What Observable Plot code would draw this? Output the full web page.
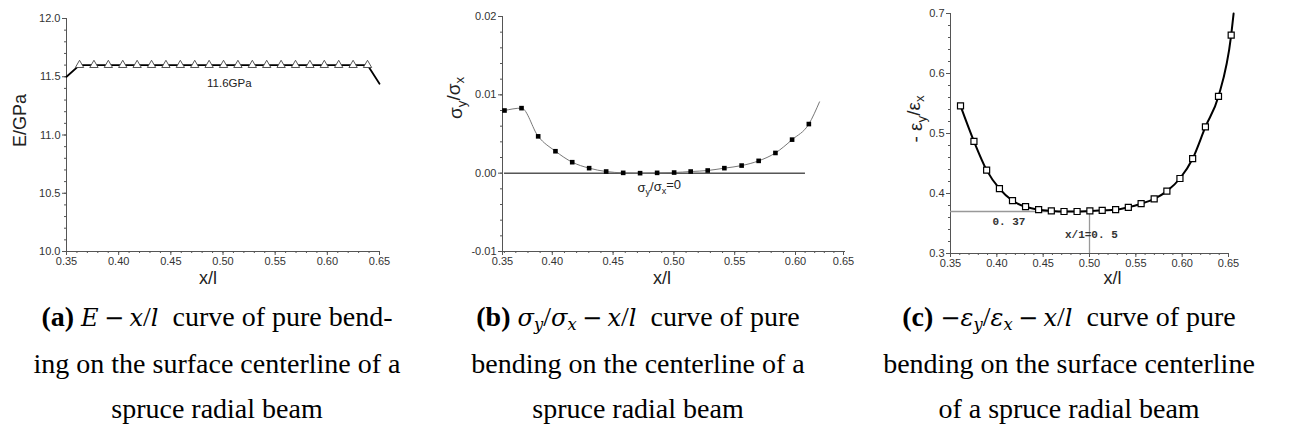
<!DOCTYPE html>
<html><head><meta charset="utf-8">
<script src="https://cdn.jsdelivr.net/npm/d3@7"></script>
<script src="https://cdn.jsdelivr.net/npm/@observablehq/plot@0.6"></script>
<style>
body{margin:0;background:#fff;}
#wrap{position:relative;width:1303px;height:442px;overflow:hidden;background:#fff;}
.panel{position:absolute;top:0;}
.cap{position:absolute;top:294px;width:600px;font-family:"Liberation Serif","Times New Roman",serif;font-size:28px;line-height:45px;text-align:center;color:#000;white-space:nowrap;}
.cap .m{font-family:"DejaVu Serif",serif;font-style:italic;font-size:0.86em;}
.cap .op{font-family:"DejaVu Serif",serif;font-size:0.86em;margin:0 0.22em;}
.cap sub{font-size:68%;vertical-align:-0.25em;line-height:0;}
</style></head><body><div id="wrap"></div>
<script>
// ---------- shared axis values ----------
const xMajor = [0.35, 0.40, 0.45, 0.50, 0.55, 0.60, 0.65];

// ---------- (a) E - x/l ----------
const eX = [0.3625, 0.3763, 0.3901, 0.4039, 0.4177, 0.4315, 0.4453, 0.4591, 0.4729, 0.4867, 0.5005,
            0.5143, 0.5281, 0.5419, 0.5557, 0.5695, 0.5833, 0.5971, 0.6109, 0.6247, 0.6385];
const eY = [11.6, 11.6, 11.6, 11.6, 11.6, 11.6, 11.6, 11.6, 11.6, 11.6, 11.6,
            11.6, 11.6, 11.6, 11.6, 11.6, 11.6, 11.6, 11.6, 11.6, 11.6];
const eStartX = [0.35], eStartY = [11.5];
const eEndX = [0.65], eEndY = [11.44];
const eTicksY = [10.0, 10.5, 11.0, 11.5, 12.0];

// ---------- (b) sigma_y/sigma_x - x/l ----------
const sX = [0.3607, 0.3747, 0.3884, 0.4026, 0.4164, 0.4303, 0.4443, 0.4583, 0.4722, 0.4862,
            0.5002, 0.5138, 0.5278, 0.5415, 0.5557, 0.5697, 0.5835, 0.5972, 0.6139];
const sY = [0.0080, 0.0083, 0.0047, 0.0028, 0.0014, 0.00064, 0.00021, 0.00004, 0.0000, 0.00004,
            0.00008, 0.00021, 0.00034, 0.00064, 0.00097, 0.00157, 0.00258, 0.00428, 0.00627];
const sEndX = [0.625], sEndY = [0.0091];
const sZeroX = [0.3607, 0.6104];
const sTicksY = [-0.01, 0.00, 0.01, 0.02];
// the x axis of (b) is compressed at both ends in the source figure (piecewise scale)
const sAxisDomain = [0.35, 0.3607, 0.60, 0.65];

// ---------- (c) -eps_y/eps_x - x/l ----------
const cX = [0.3608, 0.3753, 0.3890, 0.4028, 0.4169, 0.4310, 0.4451, 0.4588, 0.4725, 0.4866, 0.5004,
            0.5137, 0.5282, 0.5419, 0.5557, 0.5698, 0.5835, 0.5976, 0.6113, 0.6251, 0.6392, 0.6529];
const cY = [0.546, 0.487, 0.439, 0.408, 0.388, 0.378, 0.373, 0.371, 0.370, 0.370, 0.371,
            0.372, 0.373, 0.377, 0.383, 0.391, 0.404, 0.425, 0.458, 0.511, 0.562, 0.664];
const cEndX = [0.6555], cEndY = [0.70];
const cRefY = 0.37, cRefX = 0.5;
const cTicksY = [0.3, 0.4, 0.5, 0.6, 0.7];

// ---------- helpers ----------
const zip = (xs, ys) => xs.map((x, i) => ({x, y: ys[i]}));
const FONT = "'Liberation Sans', Arial, sans-serif";
const AX = "#555", TXT = "#333";

function axes(yDomain, yTicks, yStep, yFmt) {
  const xMinor = d3.range(0.35, 0.6501, 0.01);
  const yMinor = d3.range(yDomain[0], yDomain[1] + yStep / 2, yStep);
  return [
    Plot.ruleX([0.35], {stroke: AX}),
    Plot.ruleY([yDomain[0]], {stroke: AX}),
    Plot.axisX(xMinor, {tickSize: 2, tickFormat: () => "", stroke: AX, label: null}),
    Plot.axisX(xMajor, {tickSize: 4, tickPadding: 2, tickFormat: d => d.toFixed(2), fontSize: 11, fill: TXT, stroke: AX, label: null}),
    Plot.axisY(yMinor, {tickSize: 2, tickFormat: () => "", stroke: AX, label: null}),
    Plot.axisY(yTicks, {tickSize: 4, tickPadding: 2, tickFormat: yFmt, fontSize: 11, fill: TXT, stroke: AX, label: null})
  ];
}

function place(svg, left) {
  const d = document.createElement("div");
  d.className = "panel";
  d.style.left = left + "px";
  d.appendChild(svg);
  document.getElementById("wrap").appendChild(d);
}

function subscriptify(svg, raw, parts) {
  d3.select(svg).selectAll("text").filter(function () { return this.textContent === raw; }).each(function () {
    const t = d3.select(this);
    t.text(null);
    let prevSub = false;
    for (const [s, sub] of parts) {
      const ts = t.append("tspan").text(s);
      if (sub) { ts.attr("dy", "0.35em").attr("font-size", "70%"); prevSub = true; }
      else if (prevSub) { ts.attr("dy", "-0.35em"); prevSub = false; }
    }
  });
}

const common = {height: 300, style: {fontFamily: FONT, background: "transparent", overflow: "visible"}};

// ---------- panel (a) ----------
const eLine = [...zip(eStartX, eStartY), ...zip(eX, eY), ...zip(eEndX, eEndY)];
const plotA = Plot.plot({
  ...common, width: 400, marginLeft: 66, marginRight: 21, marginTop: 18, marginBottom: 49,
  x: {domain: [0.35, 0.65]}, y: {domain: [10, 12]},
  marks: [
    ...axes([10, 12], eTicksY, 0.1, d => d.toFixed(1)),
    Plot.line(eLine, {x: "x", y: "y", stroke: "#000", strokeWidth: 1.8}),
    Plot.dot(zip(eX, eY), {x: "x", y: "y", symbol: "triangle", r: 3.1, fill: "#fff", stroke: "#444", strokeWidth: 0.9}),
    Plot.text(["11.6GPa"], {x: 0.506, y: 11.445, text: d => d, fontSize: 11.5, fill: "#222"}),
    Plot.text(["x/l"], {frameAnchor: "bottom", lineAnchor: "middle", dx: -15, dy: 27, text: d => d, fontSize: 18, fill: "#222"}),
    Plot.text(["E/GPa"], {frameAnchor: "left", rotate: -90, dx: -46, dy: 12, text: d => d, fontSize: 18, fill: "#222"})
  ]
});
place(plotA, 0);

// ---------- panel (b) ----------
const sLine = [...zip(sX, sY), ...zip(sEndX, sEndY)];
const plotB = Plot.plot({
  ...common, width: 430, marginLeft: 72, marginRight: 15, marginTop: 16, marginBottom: 49,
  x: {type: "linear", domain: sAxisDomain, range: [72, 74, 365, 413]},
  y: {domain: [-0.01, 0.02]},
  marks: [
    ...axes([-0.01, 0.02], sTicksY, 0.002, d => d.toFixed(2)),
    Plot.ruleY([0], {x1: sZeroX[0], x2: sZeroX[1], stroke: "#000", strokeWidth: 1}),
    Plot.line(sLine, {x: "x", y: "y", curve: "monotone-x", stroke: "#777", strokeWidth: 1}),
    Plot.dot(zip(sX, sY), {x: "x", y: "y", symbol: "square", r: 2.6, fill: "#000"}),
    Plot.text(["σy/σx=0"], {x: 0.488, y: -0.0019, text: d => d, fontSize: 13, fill: "#222"}),
    Plot.text(["x/l"], {frameAnchor: "bottom", lineAnchor: "middle", dx: -12, dy: 27, text: d => d, fontSize: 18, fill: "#222"}),
    Plot.text(["σy/σx"], {frameAnchor: "left", rotate: -90, dx: -47, dy: -15, text: d => d, fontSize: 19, fill: "#222"})
  ]
});
subscriptify(plotB, "σy/σx=0", [["σ", false], ["y", true], ["/σ", false], ["x", true], ["=0", false]]);
subscriptify(plotB, "σy/σx", [["σ", false], ["y", true], ["/σ", false], ["x", true]]);
place(plotB, 430);

// ---------- panel (c) ----------
const cLine = [...zip(cX, cY), ...zip(cEndX, cEndY)];
const plotC = Plot.plot({
  ...common, width: 400, marginLeft: 70, marginRight: 52, marginTop: 13, marginBottom: 47,
  x: {domain: [0.35, 0.65]}, y: {domain: [0.3, 0.7]},
  marks: [
    ...axes([0.3, 0.7], cTicksY, 0.02, d => d.toFixed(1)),
    Plot.ruleY([cRefY], {x1: 0.35, x2: cRefX, stroke: "#999", strokeWidth: 1.3}),
    Plot.ruleX([cRefX], {y1: 0.3, y2: cRefY, stroke: "#999", strokeWidth: 1.3}),
    Plot.line(cLine, {x: "x", y: "y", curve: "monotone-x", stroke: "#000", strokeWidth: 2}),
    Plot.dot(zip(cX, cY), {x: "x", y: "y", symbol: "square", r: 3.4, fill: "#fff", stroke: "#000", strokeWidth: 1.2}),
    Plot.text(["0. 37"], {x: 0.413, y: 0.353, text: d => d, fontSize: 11, fontWeight: "bold", fontFamily: "'Liberation Mono', monospace", fill: "#333"}),
    Plot.text(["x/1=0. 5"], {x: 0.502, y: 0.331, text: d => d, fontSize: 11, fontWeight: "bold", fontFamily: "'Liberation Mono', monospace", fill: "#333"}),
    Plot.text(["x/l"], {frameAnchor: "bottom", lineAnchor: "middle", dx: 23, dy: 25, text: d => d, fontSize: 18, fill: "#222"}),
    Plot.text(["- εy/εx"], {frameAnchor: "left", rotate: -90, dx: -35, dy: 9, text: d => d, fontSize: 19, fill: "#222"})
  ]
});
subscriptify(plotC, "- εy/εx", [["- ε", false], ["y", true], ["/ε", false], ["x", true]]);
place(plotC, 880);

// ---------- captions ----------
const captions = [
  {center: 217, html: '<b>(a)</b> <span class="m">E</span><span class="op">−</span><span class="m">x</span>/<span class="m">l</span>&nbsp;&nbsp;curve of pure bend-<br>ing on the surface centerline of a<br>spruce radial beam'},
  {center: 638, html: '<b>(b)</b> <span class="m">σ<sub>y</sub></span>/<span class="m">σ<sub>x</sub></span><span class="op">−</span><span class="m">x</span>/<span class="m">l</span>&nbsp;&nbsp;curve of pure<br>bending on the centerline of a<br>spruce radial beam'},
  {center: 1069, html: '<b>(c)</b> <span class="op" style="margin:0">−</span><span class="m">ε<sub>y</sub></span>/<span class="m">ε<sub>x</sub></span><span class="op">−</span><span class="m">x</span>/<span class="m">l</span>&nbsp;&nbsp;curve of pure<br>bending on the surface centerline<br>of a spruce radial beam'}
];
for (const c of captions) {
  const d = document.createElement("div");
  d.className = "cap";
  d.style.left = (c.center - 300) + "px";
  d.innerHTML = c.html;
  document.getElementById("wrap").appendChild(d);
}
</script></body></html>
